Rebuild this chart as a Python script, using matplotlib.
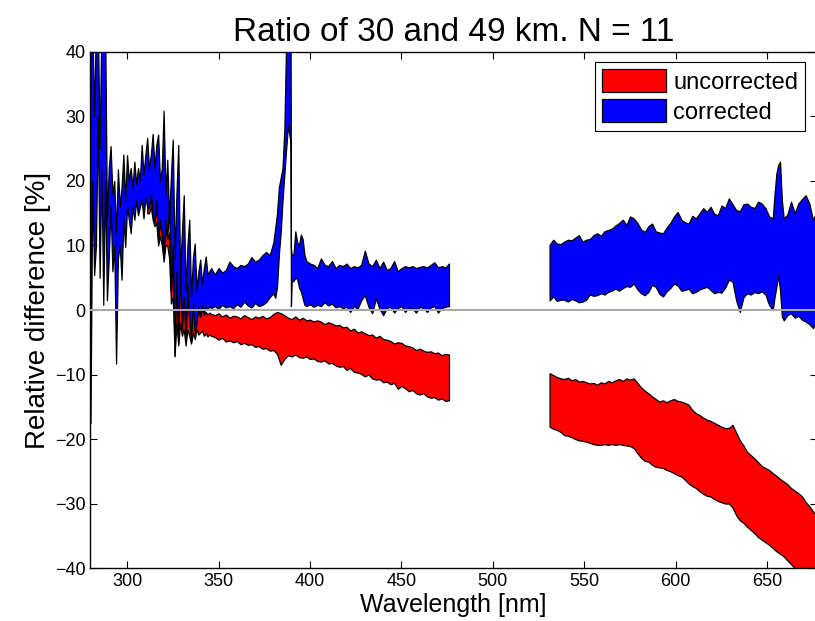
import numpy as np
import matplotlib
matplotlib.use("Agg")
import matplotlib.pyplot as plt

plt.rcParams['font.family'] = ['Liberation Sans', 'DejaVu Sans']

# ---- corrected (blue), first part, 280-476 nm
cor1_wl = np.concatenate([np.arange(280, 347), np.arange(348, 381, 2),
                          [381, 382, 383, 384, 385, 386, 387, 388, 389, 389.4, 389.6,
                           390, 391, 392, 393, 394, 395, 396, 397, 398],
                          np.arange(400, 477, 2)])
cor1_hi = [45, 45, 30, 45, 45, 25, 45, 40, 45, 14, 22, 25.4, 18, 20, 12, 21.8, 16, 19, 24.1, 17,
           24, 20, 22, 19, 23, 19.5, 22, 20, 25.6, 21, 24, 26.7, 22, 24, 27.3, 22, 25.6, 27.2, 20, 22,
           30.9, 18, 23.3, 14, 21, 26.4, 8, 18, 25.6, 6, 12, 17.8, 3, 10, 14, 2, 8, 10.3, 3, 6,
           7.8, 4, 6.5, 8.3, 5.5, 6, 6.5,
           5.5, 6.5, 5.8, 6.2, 7.5, 6.8, 6.5, 7.0, 6.8, 7.2, 8.2, 7.5, 7.8, 8.5, 9.0, 8.5, 10.5,
           12.7, 15.0, 19.0, 20.5, 22.0, 28.0, 42.0, 45.0, 45.0, 45.0, 9.5, 8.6, 8.6, 12.2, 10.5,
           10.0, 11.7, 11.0, 8.5, 7.6,
           7.2, 7.0, 6.5, 8.0, 7.0, 6.8, 7.6, 6.5, 7.0, 6.8, 7.2, 6.5, 6.8, 6.6, 7.0, 9.2, 7.2,
           6.8, 7.8, 6.5, 7.5, 6.2, 6.5, 7.6, 6.0, 6.5, 6.8, 6.6, 6.8, 6.5, 6.7, 6.8, 6.6, 7.0,
           7.4, 6.6, 6.8, 6.6, 7.2]
cor1_lo = [-17.5, 20, 5.4, 10, 30, 5, 22, 0.8, 20, 1.5, 8, 16.3, 6, 10, -8.3, 8, 10, 4.7, 14, 9.8,
           16, 14, 11.9, 16, 14, 17, 14.7, 16, 17, 14.2, 17.5, 16, 15.8, 18, 15, 13.5, 17, 10.6, 14, 12,
           8.3, 14, 11.2, 16, 3.1, 10, -7.2, 6, -5.1, 8, -3.1, 2, -4.9, 4, -1, -4.9, 1, -3.6, -2, 0.5,
           -1, 0.8, -0.5, 0.5, 0.2, 0.6, 0.3,
           0.6, 0.2, 0.8, 0.4, 0.6, 0.3, 0.9, 0.5, 1.3, 0.7, 0.4, 1.1, 0.6, 0.8, 1.2, 2.0, 2.6,
           1.9, 3.6, 8.6, 12.0, 17.0, 21.0, 25.0, 28.7, 26.7, 26.0, 0.6, 4.4, 4.5, 5.0, 4.8,
           3.5, 2.9, 1.8, 0.8, 0.6,
           0.9, 0.5, 0.8, 0.6, 1.2, 0.7, 1.0, 0.4, 0.6, 0.3, 0.5, -0.3, 0.6, 0.2, 1.5, 2.3, 0.5,
           -0.5, 1.8, 0.2, -0.8, 0.3, 0.5, -0.4, 0.3, 0.6, -0.3, 0.4, 0.2, -0.4, 0.5, 0.3, -0.3,
           0.4, 0.6, -0.4, 0.3, 0.5, 0.6]

# ---- uncorrected (red), first part
unc1_wl = np.concatenate([np.arange(311, 347), np.arange(348, 477, 2)])
unc1_hi = [17, 16.5, 17, 15.5, 14, 16, 12, 13, 12, 9, 12.5, 11, 12, 3, 8, -3, 4, -3, 5, -1,
           1.5, -2, 2, -1.5, -1, 0.5, -1, -0.8, 0, -1, 0.2, -0.8, -0.3, -0.7, -0.4, -0.6,
           -0.8, -0.5, -1.0, -0.7, -1.2, -0.9, -1.0, -1.3, -0.8, -1.1, -1.4, -1.0, -1.2, -0.9, -1.3, -1.1,
           -0.6, -0.3, -0.5, -0.8, -1.2, -1.4, -1.0, -1.5, -1.2, -1.6, -1.5, -1.8, -1.6, -1.8, -2.2, -1.9,
           -2.1, -2.4, -2.3, -2.7, -2.6, -3.2, -2.9, -3.5, -3.3, -3.6, -3.9, -3.8, -4.3, -4.0, -4.5, -4.6,
           -4.8, -5.2, -5.0, -5.1, -5.5, -5.6, -5.8, -6.2, -6.0, -6.3, -6.5, -6.4, -6.7, -6.6, -7.0, -6.8,
           -6.9]
unc1_lo = [15, 15, 16, 14, 13, 13.5, 10, 11.5, 10, 7.5, 10, 10, 8, 1, 2, -7, -2, -5.5, -2, -4,
           -3, -5.5, -3, -4, -5.2, -3.5, -4.5, -3, -3.8, -3.5, -3.2, -4, -3.6, -4.1, -3.8, -4,
           -4.2, -4.6, -4.3, -4.9, -4.7, -5.0, -4.8, -5.3, -5.1, -5.4, -5.3, -5.7, -5.6, -6.0, -5.9, -6.3,
           -6.2, -6.8, -8.5, -7.6, -7.0, -7.2, -6.9, -7.3, -7.4, -7.2, -7.6, -7.5, -7.9, -8.0, -7.8, -8.3,
           -8.2, -8.6, -8.8, -8.7, -9.3, -9.0, -9.6, -9.7, -9.9, -10.3, -10.0, -10.6, -10.8, -10.7, -11.2, -11.1,
           -11.5, -11.3, -12.2, -11.8, -12.1, -12.6, -12.4, -12.9, -13.1, -12.9, -13.4, -13.6, -13.5, -13.9, -13.7, -14.1,
           -14.0]

# ---- corrected (blue), second part, 531-677 nm
cor2_wl = np.concatenate([np.arange(531, 654, 2), [654, 655, 656, 657, 658], np.arange(659, 678, 2)])
cor2_hi = [10.1, 10.9, 10.3, 10.2, 10.6, 10.9, 10.8, 11.2, 11.6, 10.6, 10.9, 11.0, 11.6, 11.9, 11.5, 12.2,
           12.4, 12.6, 13.1, 13.5, 14.0, 13.2, 14.5, 14.2, 13.5, 12.5, 12.1, 13.0, 13.4, 12.2, 12.0, 11.9,
           12.8, 13.5, 14.5, 15.2, 14.0, 13.6, 13.4, 14.6, 14.2, 15.0, 15.8, 15.2, 16.0, 14.9, 14.7, 16.2,
           15.8, 17.3, 16.4, 15.5, 15.3, 16.4, 16.5, 16.0, 15.8, 16.8, 16.5, 15.8, 14.5, 14.2,
           18.0, 21.2, 22.5, 23.0, 17.0,
           14.2, 14.8, 16.8, 15.0, 16.5, 17.2, 17.8, 16.5, 14.0, 15.2]
cor2_lo = [1.5, 2.1, 1.4, 1.6, 1.6, 1.3, 1.7, 1.5, 1.2, 1.3, 1.6, 2.4, 2.2, 2.3, 2.6, 2.4,
           2.8, 3.0, 3.3, 3.0, 3.4, 3.7, 3.6, 4.1, 3.2, 2.6, 2.3, 2.8, 3.9, 3.6, 2.5, 2.1,
           2.9, 3.4, 4.1, 3.8, 3.0, 3.1, 3.3, 2.6, 2.8, 3.2, 3.4, 3.6, 3.1, 2.6, 2.8, 2.7,
           3.5, 4.7, 4.4, 1.5, -0.3, 2.0, 2.6, 2.4, 2.8, 2.6, 2.9, 2.4, 0.8, 0.0,
           2.0, 3.6, 5.4, 3.0, -1.0,
           -1.6, -0.8, -0.5, -1.2, -0.9, -1.5, -1.8, -2.2, -2.8, -1.6]

# ---- uncorrected (red), second part
unc2_wl = np.arange(531, 678, 2)
unc2_hi = [-9.8, -10.1, -10.4, -10.6, -10.7, -10.5, -10.9, -10.7, -11.1, -11.0, -11.2, -11.4, -11.3, -11.6, -11.2, -11.4,
           -11.0, -11.2, -10.9, -10.7, -11.0, -10.6, -10.8, -10.6, -11.3, -12.0, -12.5, -12.9, -13.4, -13.8, -14.2, -14.0,
           -14.3, -14.0, -13.8, -14.1, -14.2, -14.4, -14.7, -15.5, -16.0, -16.3, -16.7, -17.0, -17.2, -17.5, -17.8, -18.1,
           -18.3, -18.3, -17.8, -19.0, -20.2, -21.0, -22.0, -22.5, -23.0, -23.6, -24.2, -24.5, -24.8, -25.3, -25.7, -26.2,
           -26.6, -27.0, -27.6, -28.0, -28.4, -28.9, -29.8, -30.4, -31.2, -32.0]
unc2_lo = [-18.1, -18.4, -18.6, -18.9, -19.4, -19.5, -19.7, -20.0, -20.2, -20.3, -20.4, -20.6, -20.8, -20.9, -20.9, -20.8,
           -20.9, -20.8, -20.9, -20.8, -20.9, -21.0, -21.1, -21.4, -22.2, -22.9, -23.4, -23.5, -24.0, -24.3, -24.4, -24.5,
           -24.8, -25.0, -25.3, -25.6, -25.8, -26.3, -26.9, -27.3, -27.6, -28.1, -28.5, -28.8, -28.9, -29.3, -29.6, -29.8,
           -30.0, -30.0, -30.6, -31.8, -32.6, -33.0, -33.6, -34.1, -34.6, -35.2, -35.6, -36.0, -36.4, -36.9, -37.4, -37.8,
           -38.2, -38.8, -39.4, -40.0, -40.6, -41.4, -42.0, -42.8, -43.5, -44.2]

fig = plt.figure(figsize=(8.15, 6.21), dpi=100)
ax = fig.add_axes([0.111, 0.0853, 0.891, 0.831])

ax.fill_between(unc1_wl, unc1_hi, unc1_lo, facecolor="#ff0000", edgecolor="black", linewidth=0.9,
                label="uncorrected", zorder=2)
ax.fill_between(unc2_wl, unc2_hi, unc2_lo, facecolor="#ff0000", edgecolor="black", linewidth=0.9, zorder=2)
ax.fill_between(cor1_wl, cor1_hi, cor1_lo, facecolor="#0000ff", edgecolor="black", linewidth=0.9,
                label="corrected", zorder=3)
ax.fill_between(cor2_wl, cor2_hi, cor2_lo, facecolor="#0000ff", edgecolor="black", linewidth=0.9, zorder=3)
ax.axhline(0, color="#a8a8a8", linewidth=1.5, zorder=4)

ax.set_xlim(280, 677)
ax.set_ylim(-40, 40)
ax.set_xticks(np.arange(300, 651, 50))
ax.set_yticks(np.arange(-40, 41, 10))
ax.tick_params(direction="in", top=True, right=True, length=5, labelsize=13)
for s in ax.spines.values():
    s.set_linewidth(1.0)

ax.set_xlabel("Wavelength [nm]", fontsize=18, labelpad=2)
ax.set_ylabel("Relative difference [%]", fontsize=20, labelpad=3)
ax.set_title("Ratio of 30 and 49 km. N = 11", fontsize=24, pad=8)

leg = ax.legend(loc="upper right", bbox_to_anchor=(0.988, 0.900), bbox_transform=fig.transFigure,
                fontsize=17, fancybox=False, edgecolor="black", framealpha=1,
                handlelength=2.7, handleheight=1.1, handletextpad=0.3, borderaxespad=0,
                borderpad=0.3, labelspacing=0.25)
leg.get_frame().set_linewidth(0.8)
leg.set_zorder(10)

fig.savefig("out.png", dpi=100)
